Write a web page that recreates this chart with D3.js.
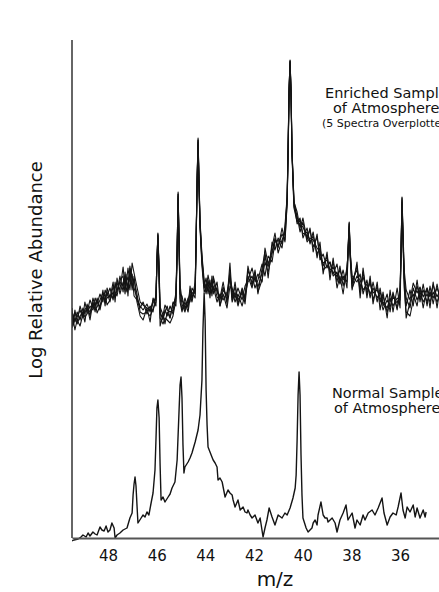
<!DOCTYPE html>
<html>
<head>
<meta charset="utf-8">
<script src="https://cdn.jsdelivr.net/npm/d3@7"></script>
<style>
  html, body { margin: 0; padding: 0; background: #fff; }
  svg { display: block; font-family: "DejaVu Sans", Verdana, sans-serif; }
</style>
</head>
<body>
<svg id="chart" width="439" height="592"></svg>
<script>
// tick labels on the reversed m/z axis
const tickValues = [48, 46, 44, 42, 40, 38, 36]

// enriched sample: shared m/z grid, the 5 overplotted spectra
const enrichedMz = [
  49.48,49.44,49.36,49.27,49.15,49.03,48.95,48.86,48.74,48.62,
  48.53,48.45,48.33,48.21,48.12,48.04,47.92,47.79,47.71,47.63,
  47.51,47.38,47.30,47.26,47.18,47.10,47.01,46.93,46.81,46.68,
  46.56,46.40,46.27,46.15,46.03,45.99,45.95,45.90,45.86,45.74,
  45.66,45.57,45.45,45.33,45.21,45.16,45.12,45.08,45.04,44.96,
  44.84,44.71,44.63,44.55,44.42,44.38,44.34,44.30,44.26,44.22,
  44.14,44.05,43.97,43.89,43.81,43.73,43.68,43.52,43.40,43.27,
  43.11,42.99,42.90,42.78,42.66,42.49,42.37,42.25,42.08,41.96,
  41.84,41.67,41.55,41.42,41.26,41.14,41.01,40.85,40.73,40.64,
  40.60,40.56,40.52,40.48,40.44,40.36,40.23,40.11,39.99,39.82,
  39.70,39.57,39.41,39.29,39.16,39.00,38.88,38.75,38.59,38.47,
  38.34,38.18,38.14,38.09,38.05,37.97,37.77,37.64,37.52,37.36,
  37.23,37.11,36.94,36.82,36.70,36.53,36.41,36.29,36.12,36.00,
  35.96,35.92,35.88,35.83,35.75,35.59,35.46,35.30,35.18,35.05,
  34.89,34.77,34.64,34.48,34.36
]
const enrichedA = [
  226,218,224,221,228,220,229,230,226,235,
  229,231,238,245,236,240,243,240,250,255,
  248,271,250,255,261,248,275,265,251,236,
  233,230,228,235,241,278,305,270,231,223,
  233,228,226,228,243,288,346,298,253,238,
  231,233,248,241,248,298,358,400,358,318,
  283,258,248,263,253,251,258,241,238,251,
  238,275,241,251,238,245,238,268,255,261,
  251,265,281,271,291,305,285,298,305,338,
  388,448,478,448,388,338,318,313,311,301,
  308,291,301,281,275,278,268,271,261,268,
  258,265,288,316,288,258,268,251,261,248,
  255,245,248,241,228,238,231,241,235,245,
  288,341,308,268,248,238,255,245,251,241,
  250,241,253,241,248
]
const enrichedB = [
  216,212,220,214,222,226,221,224,232,228,
  236,225,232,240,244,233,238,246,241,248,
  256,252,262,246,254,266,252,258,244,226,
  224,226,222,229,236,275,303,262,220,214,
  220,218,215,222,238,285,342,292,240,228,
  236,226,240,246,240,295,355,396,352,312,
  276,250,254,248,246,258,248,250,232,244,
  230,252,248,236,244,232,244,256,262,250,
  258,274,262,282,276,296,298,290,312,342,
  392,450,476,444,384,332,322,306,316,296,
  300,298,290,286,268,272,276,262,266,254,
  262,256,284,312,282,250,262,258,248,254,
  244,250,240,246,236,230,240,232,240,238,
  284,336,300,250,226,222,238,252,240,248,
  236,246,240,250,242
]
const enrichedC = [
  222,224,216,226,218,230,224,234,222,240,
  232,238,228,242,238,246,236,252,246,242,
  258,262,244,260,250,270,262,250,240,232,
  228,234,226,238,238,280,302,266,226,218,
  228,222,232,224,246,290,344,296,246,234,
  226,238,244,236,252,300,356,398,354,316,
  280,254,244,258,248,246,252,236,244,238,
  246,262,236,246,232,248,234,262,250,266,
  246,258,276,266,284,298,292,304,298,336,
  386,446,477,446,386,336,314,318,304,306,
  296,302,284,290,272,282,264,276,256,272,
  252,268,286,314,286,254,272,246,266,244,
  258,238,252,236,242,226,236,244,230,242,
  286,338,304,260,240,230,250,238,246,236,
  244,236,246,236,244
]
const enrichedD = [
  230,214,228,216,232,222,236,226,238,230,
  240,234,244,236,248,242,250,238,256,246,
  262,246,266,252,270,256,264,242,238,230,
  236,224,232,226,244,276,304,264,224,220,
  226,232,220,234,240,286,344,294,244,242,
  228,240,236,250,244,296,356,398,356,314,
  278,252,260,244,258,242,262,246,240,256,
  234,268,238,256,234,250,240,272,252,268,
  244,270,286,260,296,288,300,294,308,340,
  390,449,477,447,387,336,326,310,320,298,
  310,286,304,278,284,270,276,264,274,256,
  268,250,286,315,284,262,256,264,244,258,
  240,256,236,250,232,244,226,246,228,250,
  286,340,302,264,232,248,232,258,236,254,
  232,252,234,254,238
]
const enrichedE = [
  210,220,208,218,212,224,216,232,218,236,
  226,240,230,248,232,250,240,256,236,260,
  244,256,254,264,242,272,248,262,236,222,
  218,230,216,240,232,272,300,258,212,224,
  214,226,220,236,232,282,340,290,236,226,
  240,230,252,238,256,294,354,394,350,310,
  272,246,250,256,240,262,244,256,232,248,
  242,260,250,240,250,238,252,258,270,256,
  264,256,290,274,286,300,290,310,296,334,
  384,444,475,443,383,330,316,320,300,310,
  294,306,280,296,264,286,258,280,250,262,
  244,272,282,310,280,248,276,240,270,240,
  262,234,256,228,246,220,248,226,250,230,
  282,334,298,256,220,236,244,232,250,230,
  250,230,256,230,250
]

// normal sample, single spectrum
const normalMz = [
  49.48,49.40,49.23,49.11,49.03,48.90,48.82,48.74,48.62,48.53,
  48.45,48.33,48.25,48.16,48.08,48.00,47.92,47.84,47.75,47.71,
  47.63,47.51,47.38,47.22,47.10,47.01,46.97,46.93,46.89,46.85,
  46.81,46.77,46.64,46.56,46.48,46.40,46.32,46.23,46.15,46.07,
  46.03,45.99,45.95,45.90,45.86,45.82,45.74,45.66,45.53,45.45,
  45.37,45.25,45.16,45.08,45.04,45.00,44.96,44.92,44.88,44.84,
  44.71,44.63,44.55,44.42,44.30,44.22,44.14,44.10,44.05,44.01,
  43.97,43.93,43.89,43.81,43.73,43.68,43.60,43.52,43.48,43.40,
  43.31,43.27,43.19,43.07,42.99,42.90,42.86,42.78,42.66,42.57,
  42.45,42.37,42.29,42.25,42.16,42.08,41.96,41.84,41.75,41.63,
  41.55,41.47,41.38,41.26,41.14,41.01,40.85,40.73,40.64,40.52,
  40.40,40.31,40.27,40.23,40.19,40.15,40.11,40.07,40.03,39.99,
  39.86,39.78,39.70,39.62,39.57,39.49,39.41,39.37,39.25,39.16,
  39.08,39.00,38.96,38.79,38.67,38.59,38.47,38.34,38.22,38.14,
  37.97,37.85,37.77,37.64,37.52,37.44,37.31,37.15,37.03,36.90,
  36.74,36.66,36.53,36.41,36.29,36.16,36.08,35.96,35.88,35.79,
  35.71,35.59,35.46,35.38,35.30,35.18,35.05,34.97,34.93
]
const normalAbund = [
  -3,-2,-1,1,3,1,5,2,6,4,
  3,11,8,7,12,6,8,15,10,0,
  3,5,8,10,20,25,43,54,61,52,
  33,15,20,23,21,26,23,35,45,68,
  98,130,138,120,73,38,41,36,41,44,
  50,56,78,128,153,161,140,93,65,71,
  76,80,85,96,108,123,158,208,245,218,
  148,113,91,86,81,78,75,71,58,60,
  56,51,41,48,45,43,38,31,38,28,
  31,26,25,28,23,20,23,15,20,1,
  10,18,30,21,13,23,20,25,23,30,
  40,50,63,98,143,166,143,83,43,20,
  10,6,8,10,15,18,13,23,36,23,
  20,20,16,20,15,6,18,25,33,18,
  25,10,18,13,23,18,25,28,23,30,
  40,25,13,21,25,23,31,45,28,20,
  31,26,33,21,30,20,28,21,26
]

const dims = { width: 439, height: 592, left: 72, top: 40, bottom: 538 }

const svg = d3.select("#chart")

const x = d3.scaleLinear().domain([49.48, 34.40]).range([dims.left, dims.width])
const y = d3.scaleLinear().domain([0, 498]).range([dims.bottom, dims.top])

svg.append("clipPath").attr("id", "plot-clip")
  .append("rect").attr("x", dims.left).attr("y", 0)
  .attr("width", dims.width - dims.left).attr("height", dims.height)

const line = d3.line().x(d => x(d[0])).y(d => y(d[1]))

const plot = svg.append("g").attr("clip-path", "url(#plot-clip)")

const enrichedSeries = [enrichedE, enrichedB, enrichedD, enrichedC, enrichedA]
enrichedSeries.forEach(vals => {
  plot.append("path")
    .datum(enrichedMz.map((m, i) => [m, vals[i]]))
    .attr("d", line)
    .attr("fill", "none")
    .attr("stroke", "#141414")
    .attr("stroke-width", 1.1)
    .attr("stroke-linejoin", "round")
})

plot.append("path")
  .datum(normalMz.map((m, i) => [m, normalAbund[i]]))
  .attr("d", line)
  .attr("fill", "none")
  .attr("stroke", "#141414")
  .attr("stroke-width", 1.4)
  .attr("stroke-linejoin", "round")

// axes
const xAxis = d3.axisBottom(x).tickValues(tickValues).tickSize(0).tickPadding(12)
const xg = svg.append("g").attr("transform", `translate(0,${dims.bottom})`).call(xAxis)
xg.select(".domain").attr("stroke", "#555").attr("stroke-width", 2)
xg.selectAll("text").attr("font-size", 15).attr("fill", "#111")
  .attr("font-family", "DejaVu Sans, sans-serif")

svg.append("line")
  .attr("x1", dims.left).attr("x2", dims.left)
  .attr("y1", dims.top).attr("y2", dims.bottom)
  .attr("stroke", "#333").attr("stroke-width", 1.5)

svg.append("text")
  .attr("x", 275).attr("y", 586)
  .attr("text-anchor", "middle")
  .attr("font-size", 20).attr("fill", "#111")
  .text("m/z")

svg.append("text")
  .attr("transform", "translate(42,270) rotate(-90)")
  .attr("text-anchor", "middle")
  .attr("font-size", 18).attr("fill", "#111")
  .text("Log Relative Abundance")

// annotations, cut by the right edge as in the source figure
const note = (lines) => lines.forEach(l => {
  svg.append("text")
    .attr("x", l.x).attr("y", l.y)
    .attr("font-size", l.size).attr("fill", "#111")
    .text(l.text)
})
note([
  { text: "Enriched Sample", x: 325, y: 98, size: 14.5 },
  { text: "of Atmosphere", x: 333, y: 113, size: 14.5 },
  { text: "(5 Spectra Overplotted)", x: 322, y: 127, size: 11 },
  { text: "Normal Sample", x: 332, y: 398, size: 14.5 },
  { text: "of Atmosphere", x: 334, y: 413, size: 14.5 }
])
</script>
</body>
</html>
